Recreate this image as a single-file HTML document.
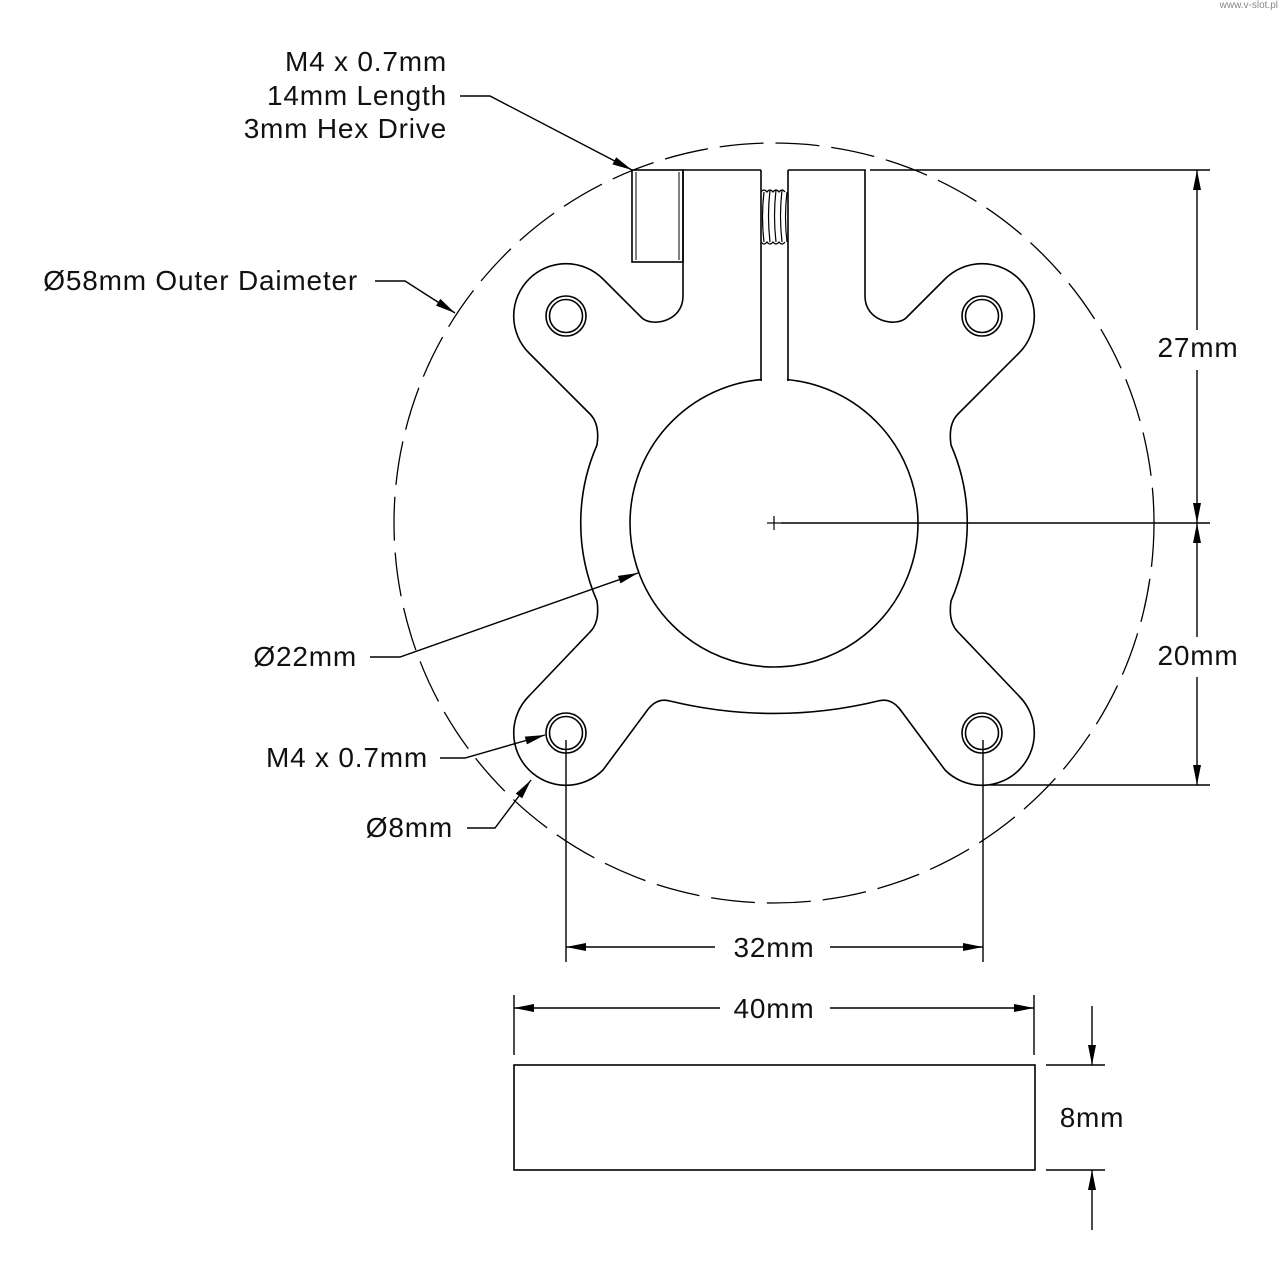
<!DOCTYPE html>
<html><head><meta charset="utf-8"><style>
html,body{margin:0;padding:0;background:#fff;}
svg{display:block;}
text{font-family:"Liberation Sans","DejaVu Sans",sans-serif;font-size:28px;letter-spacing:0.8px;fill:#111;}
</style></head><body>
<svg width="1280" height="1280" viewBox="0 0 1280 1280" xmlns="http://www.w3.org/2000/svg">
<defs>
<marker id="a" viewBox="0 0 20 8" refX="20" refY="4" markerWidth="20" markerHeight="8" markerUnits="userSpaceOnUse" orient="auto">
<path d="M0,0 L20,4 L0,8 Z" fill="#000"/></marker>
</defs>
<text x="1278" y="8" text-anchor="end" style="font-size:10px;letter-spacing:0;fill:#888">www.v-slot.pl</text>
<g fill="none" stroke="#000" stroke-width="1.6">
<circle cx="774" cy="523" r="380" stroke-width="1.3" stroke-dasharray="44 12"/>
<path d="M761,170 H683 V296 C683,322 652,327 642,318 L603,279 A52,52 0 0 0 529,353 L590,414 Q600,424 597,445 A195,195 0 0 0 597,601 Q600,622 590,632 L529,696 A52,52 0 0 0 603,770 L646,712 Q656,697 670,701 A440,440 0 0 0 878,701 Q892,697 902,712 L945,770 A52,52 0 0 0 1019,696 L958,632 Q948,622 951,601 A195,195 0 0 0 951,445 Q948,424 958,414 L1019,353 A52,52 0 0 0 945,279 L906,318 C896,327 865,322 865,296 V170 H788"/>
<circle cx="774" cy="523" r="144"/>
<rect x="762" y="370" width="25" height="16" fill="#fff" stroke="none"/>
<line x1="761" y1="170" x2="761" y2="381"/>
<line x1="788" y1="170" x2="788" y2="381"/>
<rect x="632" y="170" width="51" height="92"/>
<line x1="636" y1="172" x2="636" y2="260" stroke-width="1"/>
<line x1="679" y1="172" x2="679" y2="260" stroke-width="1"/>
<g stroke-width="1.2">
<path d="M764,192 q-3,25 0,50 M770,190 q-3,26 0,52 M776,190 q-3,26 0,52 M782,190 q-3,26 0,52 M787,192 q-3,25 0,50"/>
<path d="M761,192 q3,-4 6,0 q3,-4 6,0 q3,-4 6,0 q3,-4 6,0 M761,242 q3,4 6,0 q3,4 6,0 q3,4 6,0 q3,4 6,0"/>
</g>
<g>
<circle cx="566" cy="316" r="20"/><circle cx="566" cy="316" r="16.5"/>
<circle cx="982" cy="316" r="20"/><circle cx="982" cy="316" r="16.5"/>
<circle cx="566" cy="733" r="20"/><circle cx="566" cy="733" r="16.5"/>
<circle cx="982" cy="733" r="20"/><circle cx="982" cy="733" r="16.5"/>
</g>
<line x1="767" y1="523" x2="781" y2="523" stroke-width="1.2"/>
<line x1="774" y1="516" x2="774" y2="530" stroke-width="1.2"/>
<g stroke-width="1.4">
<line x1="870" y1="170" x2="1210" y2="170"/>
<line x1="781" y1="523" x2="1210" y2="523"/>
<line x1="990" y1="785" x2="1210" y2="785"/>
<line x1="1197" y1="330" x2="1197" y2="170" marker-end="url(#a)"/>
<line x1="1197" y1="370" x2="1197" y2="523" marker-end="url(#a)"/>
<line x1="1197" y1="637" x2="1197" y2="523" marker-end="url(#a)"/>
<line x1="1197" y1="677" x2="1197" y2="785" marker-end="url(#a)"/>
<line x1="566" y1="740" x2="566" y2="962"/>
<line x1="983" y1="740" x2="983" y2="962"/>
<line x1="715" y1="947" x2="566" y2="947" marker-end="url(#a)"/>
<line x1="830" y1="947" x2="983" y2="947" marker-end="url(#a)"/>
<line x1="514" y1="995" x2="514" y2="1055"/>
<line x1="1034" y1="995" x2="1034" y2="1055"/>
<line x1="720" y1="1008" x2="514" y2="1008" marker-end="url(#a)"/>
<line x1="830" y1="1008" x2="1034" y2="1008" marker-end="url(#a)"/>
<rect x="514" y="1065" width="521" height="105" stroke-width="1.6"/>
<line x1="1046" y1="1065" x2="1105" y2="1065"/>
<line x1="1046" y1="1170" x2="1105" y2="1170"/>
<line x1="1092" y1="1006" x2="1092" y2="1065" marker-end="url(#a)"/>
<line x1="1092" y1="1230" x2="1092" y2="1170" marker-end="url(#a)"/>
<polyline points="460,96 490,96 632,170" marker-end="url(#a)"/>
<polyline points="375,281 405,281 455,313" marker-end="url(#a)"/>
<polyline points="370,657 400,657 638,573" marker-end="url(#a)"/>
<polyline points="440,758 465,758 545,735" marker-end="url(#a)"/>
<polyline points="467,828 495,828 531,780" marker-end="url(#a)"/>
</g>
</g>
<g>
<text x="447" y="71" text-anchor="end">M4 x 0.7mm</text>
<text x="447" y="105" text-anchor="end">14mm Length</text>
<text x="447" y="138" text-anchor="end">3mm Hex Drive</text>
<text x="358" y="290" text-anchor="end">Ø58mm Outer Daimeter</text>
<text x="357" y="666" text-anchor="end">Ø22mm</text>
<text x="428" y="767" text-anchor="end">M4 x 0.7mm</text>
<text x="453" y="837" text-anchor="end">Ø8mm</text>
<text x="1198" y="357" text-anchor="middle">27mm</text>
<text x="1198" y="665" text-anchor="middle">20mm</text>
<text x="774" y="957" text-anchor="middle">32mm</text>
<text x="774" y="1018" text-anchor="middle">40mm</text>
<text x="1092" y="1127" text-anchor="middle">8mm</text>
</g>
</svg>
</body></html>
